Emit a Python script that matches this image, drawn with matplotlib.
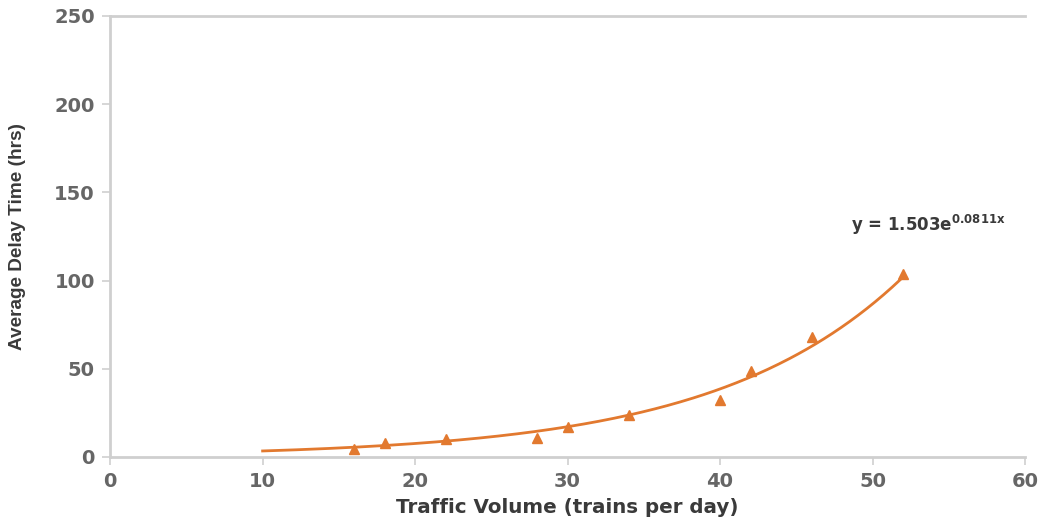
import numpy as np
import matplotlib
matplotlib.use("Agg")
import matplotlib.pyplot as plt

# Observed average delay vs. traffic volume
traffic = [16, 18, 22, 28, 30, 34, 40, 42, 46, 52]
delay = [4.5, 7.8, 10.2, 11.0, 17.0, 23.5, 32.0, 49.0, 68.0, 103.5]

# Exponential trend line y = a * exp(b * x)
fit_a = 1.503
fit_b = 0.0811
fit_range = (10, 52)

x_ticks = [0, 10, 20, 30, 40, 50, 60]
y_ticks = [0, 50, 100, 150, 200, 250]

orange = "#E2792F"
axis_grey = "#CFCFCF"
text_grey = "#666666"

fig = plt.figure(figsize=(10.39, 5.24), dpi=100)
ax = fig.add_axes([0.106, 0.128, 0.8805, 0.8415])

xs = np.linspace(fit_range[0], fit_range[1], 300)
ax.plot(xs, fit_a * np.exp(fit_b * xs), color=orange, lw=2.0, zorder=2)
ax.plot(traffic, delay, linestyle="none", marker="^", markersize=7,
        color=orange, zorder=3)

ax.set_xlim(0, 60)
ax.set_ylim(0, 250)
ax.set_xticks(x_ticks)
ax.set_yticks(y_ticks)

ax.spines["right"].set_visible(False)
for side in ("left", "bottom", "top"):
    ax.spines[side].set_color(axis_grey)
    ax.spines[side].set_linewidth(2.0)

ax.tick_params(axis="both", colors=axis_grey, width=1.2, length=6,
               labelcolor=text_grey, labelsize=14)
ax.tick_params(axis="y", pad=5)
ax.tick_params(axis="x", pad=5)
for lbl in ax.get_xticklabels() + ax.get_yticklabels():
    lbl.set_fontfamily("DejaVu Sans")
    lbl.set_fontweight("bold")

ax.set_xlabel("Traffic Volume (trains per day)", fontsize=14.3,
              fontweight="bold", color="#3a3a3a", family="DejaVu Sans",
              labelpad=5)
ax.set_ylabel("Average Delay Time (hrs)", fontsize=13.7, fontweight="bold",
              color="#3a3a3a", family="Liberation Sans", labelpad=20)

ax.text(48.6, 131.5, r"y = 1.503e$^{\mathregular{0.0811x}}$", fontsize=12,
        fontweight="bold", color="#3a3a3a", family="DejaVu Sans",
        ha="left", va="center")

fig.savefig("out.png", dpi=100, facecolor="white")
